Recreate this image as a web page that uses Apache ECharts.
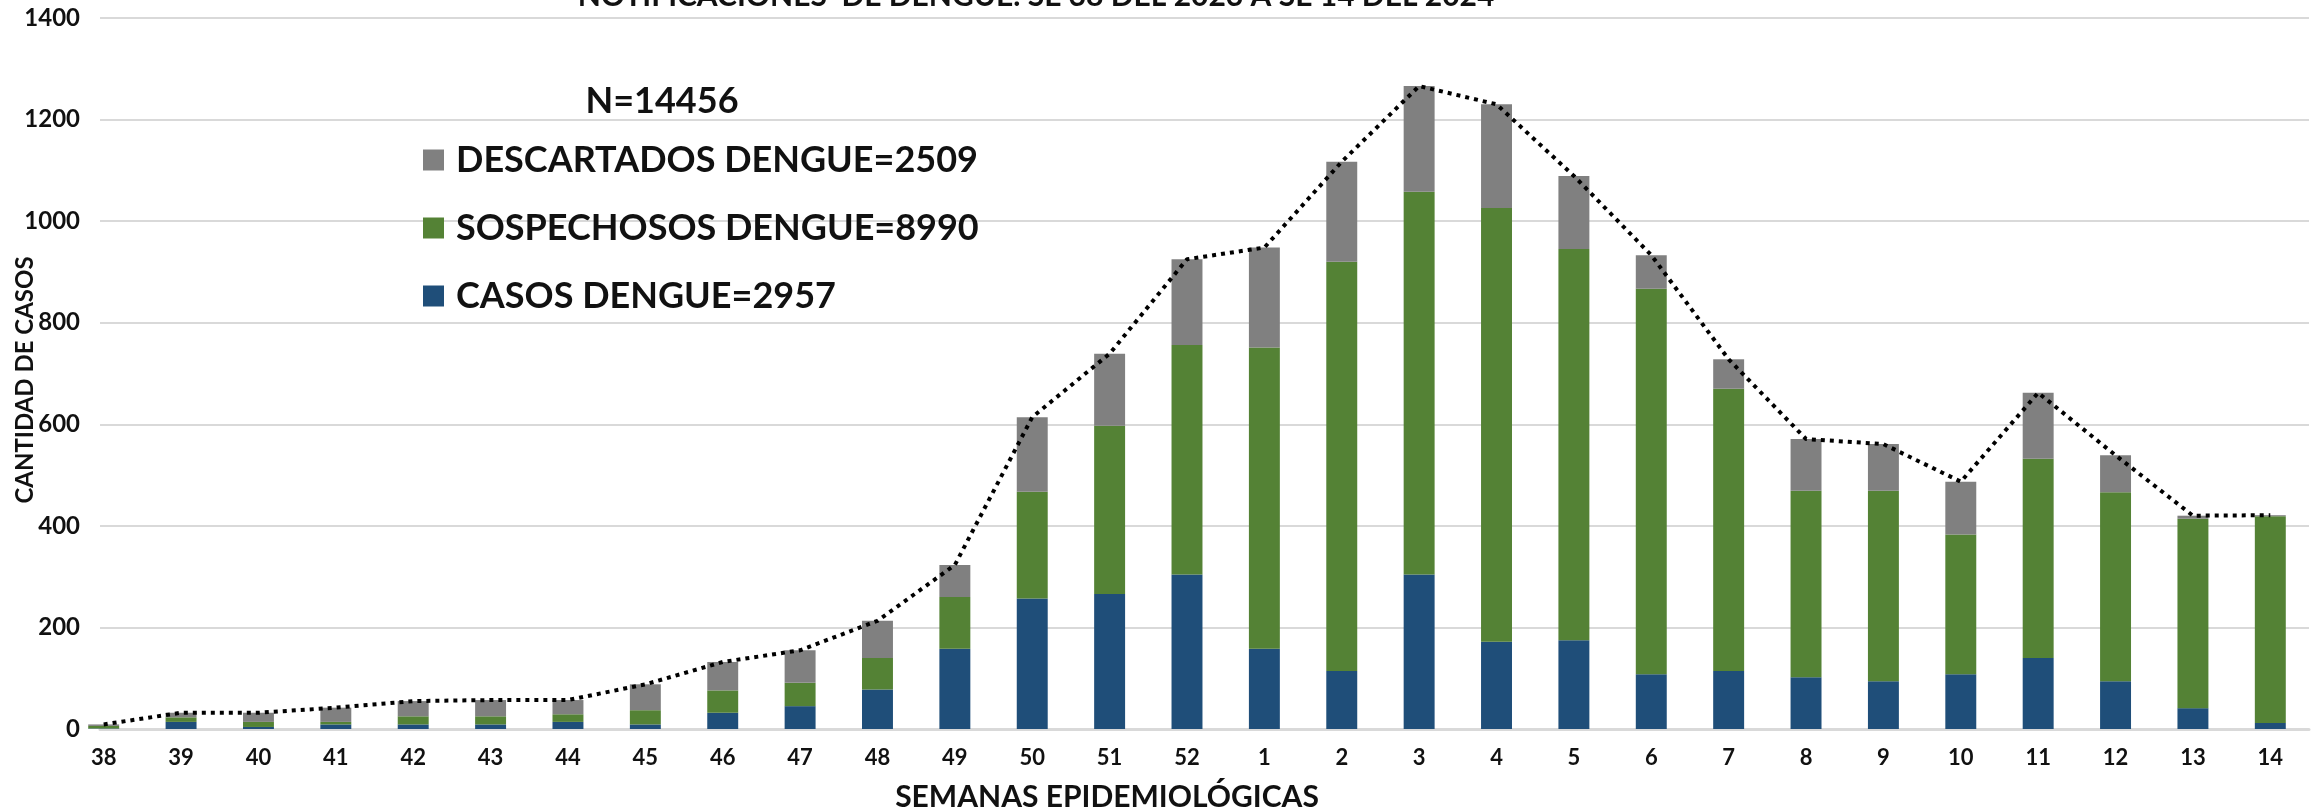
<!DOCTYPE html>
<html>
<head>
<meta charset="utf-8">
<script src="https://cdn.jsdelivr.net/npm/echarts@6/dist/echarts.min.js"></script>
<style>
html,body{margin:0;padding:0;background:#fff;}
#chart{width:2311px;height:812px;}
</style>
</head>
<body>
<div id="chart"></div>
<script>
const weeks = ['38','39','40','41','42','43','44','45','46','47','48','49','50','51','52','1','2','3','4','5','6','7','8','9','10','11','12','13','14'];
const casos = [1,14,4,9,9,9,14,9,32,45,78,158,257,266,304,158,114,304,172,175,108,114,102,94,108,140,94,41,12];
const sospechosos = [5,9,10,5,16,16,15,28,44,46,62,102,210,331,452,593,806,754,854,770,759,556,367,375,275,392,372,373,407];
const descartados = [3,9,18,28,30,32,28,51,56,64,73,63,147,142,169,197,197,208,204,144,66,58,102,92,104,130,73,6,2];
const yTicks = [0,200,400,600,800,1000,1200,1400];
const seriesNames = ['CASOS DENGUE=2957','SOSPECHOSOS DENGUE=8990','DESCARTADOS DENGUE=2509'];
const totalLabel = 'N=14456';
const titleText = 'NOTIFICACIONES  DE DENGUE. SE 38 DEL 2023 A SE 14 DEL 2024';
const yName = 'CANTIDAD DE CASOS';
const xName = 'SEMANAS EPIDEMIOLÓGICAS';

const totals = weeks.map((w,i)=>casos[i]+sospechosos[i]+descartados[i]);
const FONT = 'Lato';
const TXT = '#111';
const chart = echarts.init(document.getElementById('chart'));
chart.setOption({
  animation:false,
  textStyle:{fontFamily:FONT},
  title:[{
    text:titleText, left:1031, top:-24, textAlign:'center',
    textStyle:{fontFamily:FONT,fontWeight:'bold',fontSize:30,color:TXT}
  },{
    text:totalLabel, left:657, top:78, textAlign:'center',
    textStyle:{fontFamily:FONT,fontWeight:'bold',fontSize:36,color:TXT}
  }],
  graphic:[{
    type:'text', x:1107, y:797,
    style:{text:xName,fontFamily:FONT,fontWeight:'bold',fontSize:30,fill:TXT,align:'center',verticalAlign:'middle'}
  },{
    type:'text', x:25, y:380, rotation:Math.PI/2,
    style:{text:yName,fontFamily:FONT,fontWeight:'bold',fontSize:24,fill:TXT,align:'center',verticalAlign:'middle'}
  }],
  legend:{
    orient:'vertical', left:418, top:133, itemGap:24,
    itemWidth:21, itemHeight:21, icon:'rect',
    data:[seriesNames[2],seriesNames[1],seriesNames[0]],
    textStyle:{fontFamily:FONT,fontWeight:'bold',fontSize:36,lineHeight:44,color:TXT,padding:[0,0,0,7]},
    selectedMode:false
  },
  grid:[
    {left:65,right:2,top:18,bottom:83,containLabel:false,outerBoundsMode:'none'},
    {left:100,right:2,top:18,bottom:83,containLabel:false,outerBoundsMode:'none'}
  ],
  xAxis:[{
    type:'category', data:weeks, gridIndex:0,
    axisLine:{show:false},
    axisTick:{show:false},
    axisLabel:{fontFamily:FONT,fontWeight:'bold',fontSize:22,color:TXT,margin:18}
  },{
    type:'value', gridIndex:1, min:0, max:1,
    axisLine:{show:true,lineStyle:{color:'#d9d9d9',width:3}},
    axisTick:{show:false}, axisLabel:{show:false}, splitLine:{show:false}
  }],
  yAxis:[{
    type:'value', gridIndex:0, min:0, max:1400, interval:200,
    axisLine:{show:false}, axisTick:{show:false}, axisLabel:{show:false}, splitLine:{show:false}
  },{
    type:'value', gridIndex:1, min:0, max:1400, interval:200,
    axisLine:{show:false}, axisTick:{show:false},
    axisLabel:{fontFamily:FONT,fontWeight:'bold',fontSize:24,color:TXT,margin:20,
      formatter:v=>yTicks.includes(v)?String(v):''},
    splitLine:{lineStyle:{color:'#d9d9d9',width:2}}
  }],
  series:[
    {name:seriesNames[0],type:'bar',stack:'s',data:casos,barWidth:'40%',itemStyle:{color:'#1F4E79'}},
    {name:seriesNames[1],type:'bar',stack:'s',data:sospechosos,barWidth:'40%',itemStyle:{color:'#548235'}},
    {name:seriesNames[2],type:'bar',stack:'s',data:descartados,barWidth:'40%',itemStyle:{color:'#808080'}},
    {name:'TOTAL',type:'line',data:totals,symbol:'none',z:10,
      lineStyle:{color:'#000',width:4,type:[4,5]}}
  ]
});
</script>
</body>
</html>
